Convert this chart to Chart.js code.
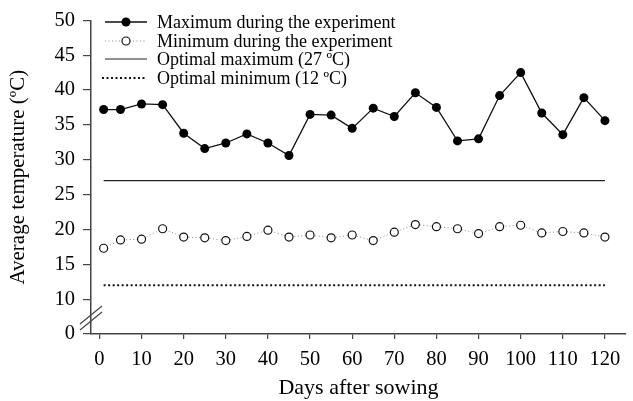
<!DOCTYPE html>
<html>
<head>
<meta charset="utf-8">
<script src="https://cdn.jsdelivr.net/npm/chart.js@4"></script>
<style>
  html, body { margin: 0; padding: 0; background: #fff; }
  #wrap { width: 633px; height: 401px; }
</style>
</head>
<body>
<div id="wrap"><canvas id="tempChart"></canvas></div>
<script>
// Days after sowing for each measurement
const days = [1, 5, 10, 15, 20, 25, 30, 35, 40, 45, 50, 55, 60, 65, 70, 75, 80, 85, 90, 95, 100, 105, 110, 115, 120];
// Maximum / minimum temperature during the experiment (ºC)
const maxTemp = [37.2, 37.2, 38.0, 37.9, 33.8, 31.6, 32.4, 33.7, 32.4, 30.6, 36.5, 36.4, 34.5, 37.4, 36.2, 39.6, 37.5, 32.7, 33.0, 39.2, 42.5, 36.7, 33.6, 38.9, 35.6];
const minTemp = [17.3, 18.5, 18.6, 20.1, 18.9, 18.8, 18.4, 19.0, 19.9, 18.9, 19.2, 18.8, 19.2, 18.4, 19.6, 20.7, 20.4, 20.1, 19.4, 20.4, 20.6, 19.5, 19.7, 19.5, 18.9];
const optimalMax = 27;
const optimalMin = 12;

// Axis ticks (the y axis is broken between 0 and 10, so "0" sits one step below 10)
const xTicks = [0, 10, 20, 30, 40, 50, 60, 70, 80, 90, 100, 110, 120];
const yTickPos = [5, 10, 15, 20, 25, 30, 35, 40, 45, 50];
const yTickLabels = ['0', '10', '15', '20', '25', '30', '35', '40', '45', '50'];

const legendLabels = [
    'Maximum during the experiment',
    'Minimum during the experiment',
    'Optimal maximum (27 ºC)',
    'Optimal minimum (12 ºC)'
];

const serif = '"Liberation Serif", "Times New Roman", serif';
const ink = '#000';
const axisColor = '#444';

const toPoints = (xs, ys) => xs.map((x, i) => ({ x: x, y: ys[i] }));
const firstDay = days[0];
const lastDay = days[days.length - 1];

// Legend + axis break drawn on top
const extras = {
    id: 'extras',
    afterDraw(chart) {
        const ctx = chart.ctx;
        const y = chart.scales.y;
        const x = chart.scales.x;
        ctx.save();

        // axis break marks near 10
        const yb = y.getPixelForValue(7.3);
        const xa = x.left;
        ctx.strokeStyle = axisColor;
        ctx.lineWidth = 1.2;
        [-3, 3].forEach(off => {
            ctx.beginPath();
            ctx.moveTo(xa - 11, yb + off + 9);
            ctx.lineTo(xa + 11, yb + off - 9);
            ctx.stroke();
        });

        // legend
        const lx0 = 105, lx1 = 147, tx = 157;
        const rows = [22, 41, 59, 78];
        ctx.font = '18px ' + serif;
        ctx.fillStyle = ink;
        ctx.textBaseline = 'middle';
        rows.forEach((ry, i) => {
            ctx.beginPath();
            ctx.setLineDash([]);
            if (i === 0) {
                ctx.strokeStyle = '#111'; ctx.lineWidth = 1.3;
            } else if (i === 1) {
                ctx.strokeStyle = '#888'; ctx.lineWidth = 1; ctx.setLineDash([1, 2.5]);
            } else if (i === 2) {
                ctx.strokeStyle = '#222'; ctx.lineWidth = 1.2;
            } else {
                ctx.strokeStyle = '#111'; ctx.lineWidth = 2; ctx.setLineDash([2, 2.5]);
            }
            ctx.moveTo(i === 3 ? lx0 - 3 : lx0, ry);
            ctx.lineTo(lx1, ry);
            ctx.stroke();
            ctx.setLineDash([]);
            if (i === 0) {
                ctx.beginPath();
                ctx.arc((lx0 + lx1) / 2, ry, 4.5, 0, Math.PI * 2);
                ctx.fillStyle = '#000';
                ctx.fill();
            } else if (i === 1) {
                ctx.beginPath();
                ctx.arc((lx0 + lx1) / 2, ry, 4, 0, Math.PI * 2);
                ctx.fillStyle = '#fff';
                ctx.fill();
                ctx.strokeStyle = '#111';
                ctx.lineWidth = 1.2;
                ctx.stroke();
            }
            ctx.fillStyle = ink;
            ctx.fillText(legendLabels[i], tx, ry + 1);
        });
        ctx.restore();
    }
};

new Chart(document.getElementById('tempChart'), {
    type: 'line',
    data: {
        datasets: [
            {
                label: legendLabels[0],
                data: toPoints(days, maxTemp),
                borderColor: '#111',
                borderWidth: 1.3,
                pointRadius: 4.5,
                pointBackgroundColor: '#000',
                pointBorderColor: '#000',
                pointBorderWidth: 0,
                tension: 0
            },
            {
                label: legendLabels[1],
                data: toPoints(days, minTemp),
                borderColor: '#888',
                borderWidth: 1,
                borderDash: [1, 2.5],
                pointRadius: 4,
                pointBackgroundColor: '#fff',
                pointBorderColor: '#111',
                pointBorderWidth: 1.2,
                tension: 0
            },
            {
                label: legendLabels[2],
                data: [{ x: firstDay, y: optimalMax }, { x: lastDay, y: optimalMax }],
                borderColor: '#222',
                borderWidth: 1.2,
                pointRadius: 0
            },
            {
                label: legendLabels[3],
                data: [{ x: firstDay, y: optimalMin }, { x: lastDay, y: optimalMin }],
                borderColor: '#111',
                borderWidth: 2,
                borderDash: [2, 2.5],
                pointRadius: 0
            }
        ]
    },
    options: {
        responsive: true,
        maintainAspectRatio: false,
        animation: false,
        layout: { padding: { top: 17, right: 7, left: 0, bottom: 0 } },
        plugins: {
            legend: { display: false },
            tooltip: { enabled: false }
        },
        scales: {
            x: {
                type: 'linear',
                min: -2,
                max: 125,
                afterBuildTicks: s => { s.ticks = xTicks.map(v => ({ value: v })); },
                afterFit: s => { s.height = 67; },
                grid: { drawOnChartArea: false, drawTicks: true, tickLength: 5, color: axisColor, lineWidth: 1.2 },
                border: { display: true, color: axisColor, width: 1.5 },
                ticks: { color: ink, font: { family: serif, size: 20.5 }, padding: 8, maxRotation: 0 },
                title: { display: true, text: 'Days after sowing', color: ink, font: { family: serif, size: 22 }, padding: { top: 0, bottom: 0 } }
            },
            y: {
                type: 'linear',
                min: 5,
                max: 50,
                afterBuildTicks: s => { s.ticks = yTickPos.map(v => ({ value: v })); },
                afterFit: s => { s.width = 91; },
                grid: { drawOnChartArea: false, drawTicks: true, tickLength: 8, color: axisColor, lineWidth: 1.2 },
                border: { display: true, color: axisColor, width: 1.5 },
                ticks: {
                    color: ink,
                    font: { family: serif, size: 20.5 },
                    padding: 8,
                    callback: v => yTickLabels[yTickPos.indexOf(v)]
                },
                title: { display: true, text: 'Average temperature (ºC)', color: ink, font: { family: serif, size: 21 }, padding: { top: 6, bottom: 0 } }
            }
        }
    },
    plugins: [extras]
});
</script>
</body>
</html>
